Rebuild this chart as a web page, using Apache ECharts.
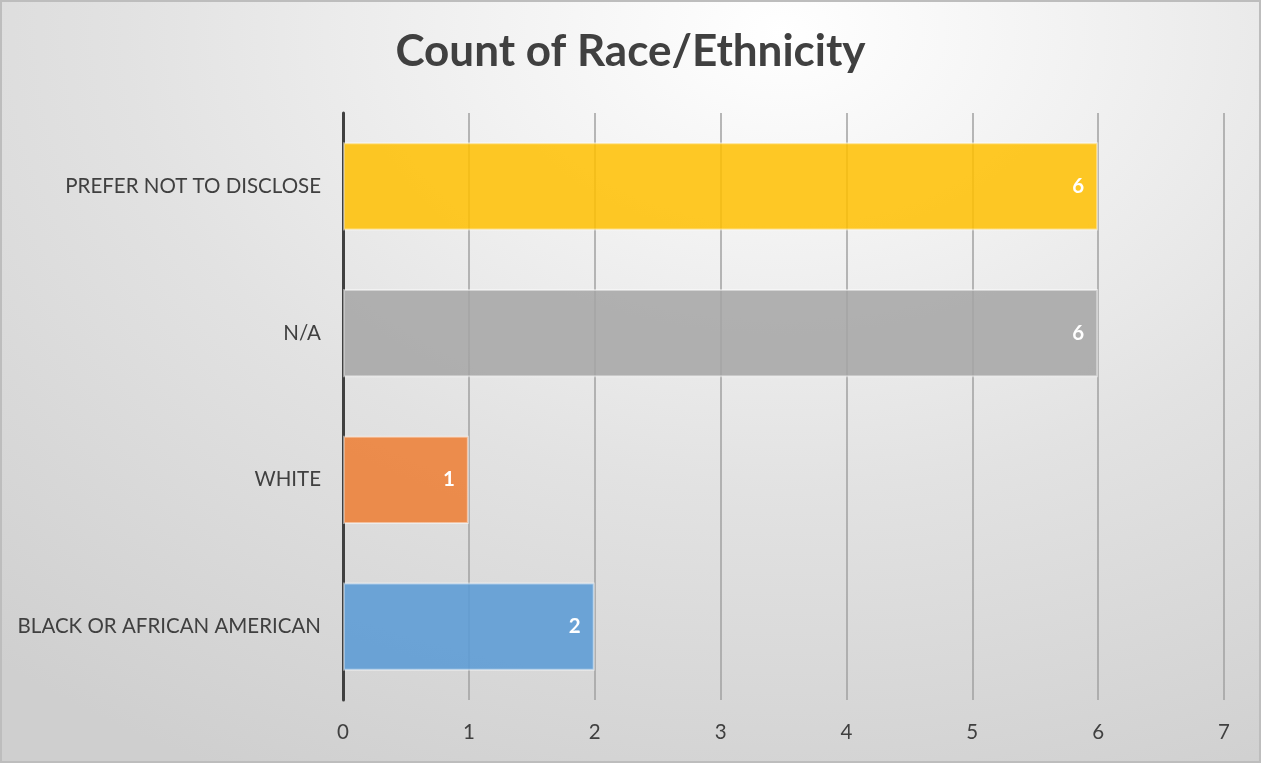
<!DOCTYPE html>
<html><head><meta charset="utf-8">
<script src="https://cdn.jsdelivr.net/npm/echarts@6/dist/echarts.min.js"></script>
<style>
html,body{margin:0;padding:0;}
#c{width:1261px;height:763px;box-sizing:border-box;border:2px solid #bdbdbd;
background:radial-gradient(ellipse 95% 110% at 62% 4%, #ffffff 0%, #f2f2f2 25%, #e2e2e2 55%, #cfcfcf 100%);}
</style></head><body>
<div id="c"></div>
<script>
const titleText = 'Count of Race/Ethnicity';
const categories = ['BLACK OR AFRICAN AMERICAN', 'WHITE', 'N/A', 'PREFER NOT TO DISCLOSE'];
const counts = [2, 1, 6, 6];
const barColors = ['rgba(91,155,213,0.88)', 'rgba(237,125,49,0.85)', 'rgba(165,165,165,0.85)', 'rgba(255,192,0,0.85)'];
const xTicks = [0, 1, 2, 3, 4, 5, 6, 7];

const chart = echarts.init(document.getElementById('c'));
chart.setOption({
  backgroundColor: 'transparent',
  title: {
    text: titleText, left: 'center', top: 23,
    textStyle: { fontFamily: 'Lato', fontWeight: 'bold', fontSize: 44, color: '#404040' }
  },
  grid: { left: 341, right: 35, top: 111, bottom: 61, containLabel: false },
  xAxis: {
    type: 'value', min: xTicks[0], max: xTicks[xTicks.length - 1], interval: 1,
    axisLine: { show: false }, axisTick: { show: false },
    splitLine: { show: true, lineStyle: { color: '#a0a0a0', width: 1.5 } },
    axisLabel: { margin: 22, fontFamily: 'Lato', fontSize: 20.5, color: '#404040' }
  },
  yAxis: {
    type: 'category', data: categories,
    axisLine: { show: true, lineStyle: { color: '#404040', width: 3 } },
    axisTick: { show: false },
    axisLabel: { margin: 22, fontFamily: 'Lato', fontSize: 20.5, color: '#404040' }
  },
  series: [{
    type: 'bar', barCategoryGap: '40%',
    data: counts.map((v, i) => ({ value: v, itemStyle: { color: barColors[i] } })),
    itemStyle: { borderColor: 'rgba(255,255,255,0.45)', borderWidth: 2 },
    label: { show: true, position: 'insideRight', distance: 14, color: '#ffffff',
      fontFamily: 'Lato', fontWeight: 'bold', fontSize: 20.5 }
  }]
});
</script></body></html>
